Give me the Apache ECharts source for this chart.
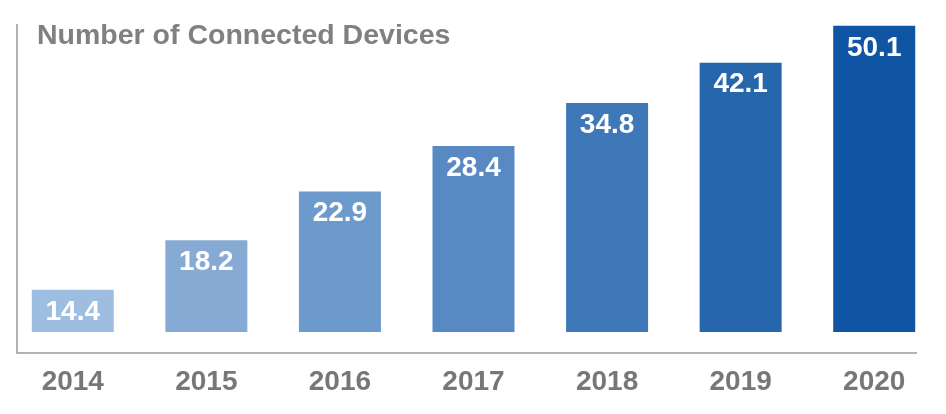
<!DOCTYPE html>
<html>
<head>
<meta charset="utf-8">
<script src="https://cdn.jsdelivr.net/npm/echarts@6/dist/echarts.min.js"></script>
<style>
  html, body { margin: 0; padding: 0; background: #fff; }
  #chart { width: 946px; height: 414px; }
</style>
</head>
<body>
<div id="chart"></div>
<script>
var years = ['2014', '2015', '2016', '2017', '2018', '2019', '2020'];
var devices = [14.4, 18.2, 22.9, 28.4, 34.8, 42.1, 50.1];
var barColors = ['#9ebee1', '#87aad5', '#6d9acd', '#5889c3', '#3f78b9', '#2566ad', '#0f55a3'];

var chart = echarts.init(document.getElementById('chart'));

var option = {
  animation: false,
  backgroundColor: '#fff',
  textStyle: { fontFamily: 'Liberation Sans, Arial, sans-serif' },
  title: {
    text: 'Number of Connected Devices',
    left: 32,
    top: 17,
    textStyle: { color: '#808080', fontSize: 28.5, fontWeight: 'bold', fontFamily: 'Liberation Sans, Arial, sans-serif' }
  },
  grid: { left: 6, right: 5, top: 20, bottom: 82 },
  xAxis: {
    type: 'category',
    data: years,
    axisLine: { show: false },
    axisTick: { show: false },
    axisLabel: { color: '#777', fontSize: 28, fontWeight: 'bold', margin: 36 }
  },
  // bars in the original step up evenly, a hidden log axis comes closest
  yAxis: {
    type: 'log',
    min: 11.8,
    max: 51.5,
    show: false,
    splitLine: { show: false }
  },
  graphic: [{
    type: 'polyline',
    shape: { points: [[17, 24], [17, 353], [917, 353]] },
    style: { stroke: '#9a9a9a', lineWidth: 1.5, fill: null }
  }],
  series: [{
    type: 'bar',
    barWidth: 82,
    clip: true,
    data: devices.map(function (v, i) {
      return { value: v, itemStyle: { color: barColors[i] } };
    }),
    label: {
      show: true,
      position: 'insideTop',
      distance: 8,
      color: '#fff',
      fontSize: 28,
      fontWeight: 'bold'
    }
  }]
};
chart.setOption(option);
</script>
</body>
</html>
